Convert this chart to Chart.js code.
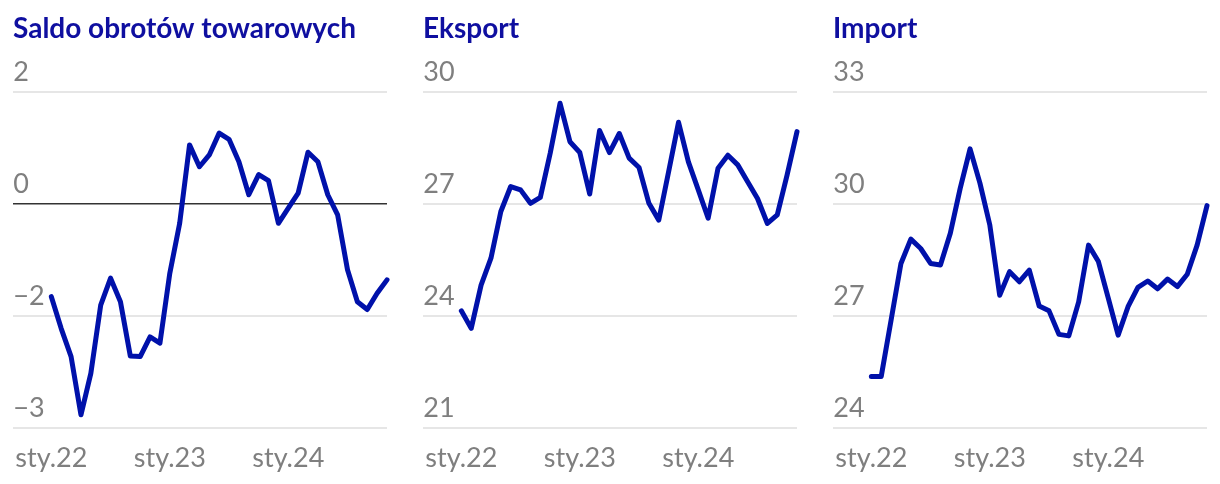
<!DOCTYPE html>
<html><head><meta charset="utf-8">
<script src="https://cdn.jsdelivr.net/npm/chart.js@4.4.0/dist/chart.umd.min.js"></script>
<style>
html,body{margin:0;padding:0;background:#fff;width:1220px;height:484px;overflow:hidden}
.panel{position:absolute;top:0;width:400px;height:500px}
canvas{display:block}
</style></head><body>
<div class="panel" style="left:0"><canvas id="c1" width="400" height="500"></canvas></div>
<div class="panel" style="left:410px"><canvas id="c2" width="400" height="500"></canvas></div>
<div class="panel" style="left:820px"><canvas id="c3" width="400" height="500"></canvas></div>
<script>
const months = ['sty.22','lut.22','mar.22','kwi.22','maj.22','cze.22','lip.22','sie.22','wrz.22','paź.22','lis.22','gru.22',
  'sty.23','lut.23','mar.23','kwi.23','maj.23','cze.23','lip.23','sie.23','wrz.23','paź.23','lis.23','gru.23',
  'sty.24','lut.24','mar.24','kwi.24','maj.24','cze.24','lip.24','sie.24','wrz.24','paź.24','lis.24'];
const saldo = [-1.66,-2.23,-2.73,-3.77,-3.03,-1.81,-1.33,-1.75,-2.72,-2.73,-2.38,-2.49,
  -1.24,-0.35,1.05,0.66,0.87,1.26,1.15,0.75,0.16,0.52,0.41,-0.35,
  -0.08,0.19,0.92,0.75,0.16,-0.20,-1.18,-1.75,-1.89,-1.60,-1.36];
const eksport = [24.13,23.66,24.82,25.54,26.79,27.46,27.37,27.01,27.17,28.35,29.69,28.66,
  28.37,27.26,28.96,28.37,28.88,28.22,27.97,27.01,26.56,27.86,29.18,28.12,
  27.37,26.61,27.95,28.30,28.04,27.59,27.14,26.47,26.70,27.77,28.93];
const importValues = [25.37,25.37,26.88,28.40,29.05,28.80,28.40,28.36,29.21,30.41,31.47,30.55,
  29.43,27.55,28.18,27.91,28.22,27.26,27.13,26.50,26.46,27.37,28.89,28.45,
  27.47,26.48,27.24,27.76,27.93,27.72,27.98,27.78,28.11,28.89,29.95];
const titles = ['Saldo obrotów towarowych','Eksport','Import'];
const saldoTicks = [2,0,-2,-4];
const saldoTickLabels = ['2','0','−2','−3'];
const eksportTicks = [30,27,24,21];
const eksportTickLabels = ['30','27','24','21'];
const importTicks = [33,30,27,24];
const importTickLabels = ['33','30','27','24'];
const xTickPositions = months.map((m,i)=>m.startsWith('sty')?i:-1).filter(i=>i>=0);

const LINE = '#0011aa';
const TITLE = '#0f0fa0';
const GREY = '#7f7f7f';

function makeChart(id, title, values, ticks, tickLabels, zeroLine){
  new Chart(document.getElementById(id), {
    type:'line',
    data:{datasets:[{data: values.map((v,i)=>({x:i,y:v})), borderColor:LINE, borderWidth:5,
      pointRadius:0, tension:0, fill:false, borderJoinStyle:'round', borderCapStyle:'round', clip:false}]},
    options:{
      responsive:false, animation:false, devicePixelRatio:1,
      layout:{padding:{left:13,right:13,top:0,bottom:11.9}},
      plugins:{legend:{display:false}, tooltip:{enabled:false},
        title:{display:true, text:title, align:'start', color:TITLE,
          font:{family:'Lato', weight:'bold', size:28}, padding:{top:12,bottom:46.1}}},
      scales:{
        x:{type:'linear', min:-3.85, max:34,
          afterBuildTicks:s=>{s.ticks = xTickPositions.map(v=>({value:v}));},
          ticks:{autoSkip:false, maxRotation:0, padding:14, color:GREY, font:{family:'Lato', size:27},
            callback:v=>months[v]},
          grid:{display:false, drawTicks:false}, border:{display:false}},
        y:{type:'linear', min:Math.min(...ticks), max:Math.max(...ticks),
          afterBuildTicks:s=>{s.ticks = ticks.map(v=>({value:v}));},
          ticks:{mirror:true, padding:0, labelOffset:-19, color:GREY, font:{family:'Lato', size:27},
            callback:v=>tickLabels[ticks.indexOf(v)]},
          grid:{drawTicks:false,
            color:c=> (zeroLine && c.tick && c.tick.value===0) ? '#333333' : '#e6e6e6',
            lineWidth:c=> (zeroLine && c.tick && c.tick.value===0) ? 1.5 : 2},
          border:{display:false}}
      }
    }
  });
}
makeChart('c1', titles[0], saldo, saldoTicks, saldoTickLabels, true);
makeChart('c2', titles[1], eksport, eksportTicks, eksportTickLabels, false);
makeChart('c3', titles[2], importValues, importTicks, importTickLabels, false);
</script>
</body></html>
